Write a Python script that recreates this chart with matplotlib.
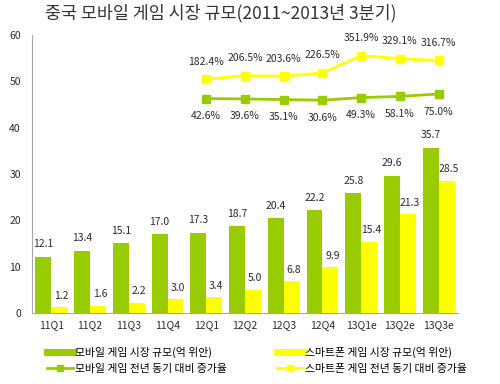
import numpy as np
import matplotlib
matplotlib.use("Agg")
import matplotlib.pyplot as plt
from matplotlib.lines import Line2D

plt.rcParams['font.family'] = ['Noto Sans CJK KR', 'DejaVu Sans']

quarters = ['11Q1', '11Q2', '11Q3', '11Q4', '12Q1', '12Q2', '12Q3', '12Q4',
            '13Q1e', '13Q2e', '13Q3e']
mobile_size = [12.1, 13.4, 15.1, 17.0, 17.3, 18.7, 20.4, 22.2, 25.8, 29.6, 35.7]
smart_size = [1.2, 1.6, 2.2, 3.0, 3.4, 5.0, 6.8, 9.9, 15.4, 21.3, 28.5]

# yoy growth from 12Q1 onwards (%)
mobile_growth = [42.6, 39.6, 35.1, 30.6, 49.3, 58.1, 75.0]
smart_growth = [182.4, 206.5, 203.6, 226.5, 351.9, 329.1, 316.7]

GREEN = '#99CC00'
YELLOW = '#FFFF00'
GREY = '#A6A6A6'
TXT = '#2b2b2b'

fig = plt.figure(figsize=(5, 3.84), dpi=100)
ax = fig.add_axes([0.064, 0.185, 0.852, 0.724])

x = np.arange(len(quarters))
w = 0.41
ax.bar(x - w / 2, mobile_size, w, color=GREEN)
ax.bar(x + w / 2, smart_size, w, color=YELLOW)

for xi, v in zip(x, mobile_size):
    ax.text(xi - w / 2, v + 1.6, f'{v:.1f}', ha='center', va='bottom', fontsize=7.5, color=TXT)
for xi, v in zip(x, smart_size):
    ax.text(xi + w / 2 + 0.05, v + 1.4, f'{v:.1f}', ha='center', va='bottom', fontsize=7.5, color=TXT)

ax.set_xlim(-0.5, 10.5)
ax.set_ylim(0, 60)
ax.set_yticks(range(0, 61, 10))
ax.set_xticks(x)
ax.set_xticklabels(quarters)
ax.tick_params(axis='both', labelsize=7.5, colors=TXT, length=0)
ax.tick_params(axis='x', pad=5)
ax.tick_params(axis='y', pad=8)
for s in ['top', 'right']:
    ax.spines[s].set_visible(False)
for s in ['left', 'bottom']:
    ax.spines[s].set_color(GREY)

# growth lines on a hidden secondary axis
ax2 = ax.twinx()
ax2.set_ylim(-1500, 500)
ax2.axis('off')
gx = x[4:]
ax2.plot(gx, mobile_growth, color=GREEN, marker='s', markersize=6, lw=2)
ax2.plot(gx, smart_growth, color=YELLOW, marker='s', markersize=6, lw=2)
for xi, v in zip(gx, mobile_growth):
    ax2.annotate(f'{v:.1f}%', (xi, v), xytext=(0, -9), textcoords='offset points',
                 ha='center', va='top', fontsize=7.5, color=TXT)
for xi, v in zip(gx, smart_growth):
    ax2.annotate(f'{v:.1f}%', (xi, v), xytext=(0, 9), textcoords='offset points',
                 ha='center', va='bottom', fontsize=7.5, color=TXT)

fig.text(0.09, 0.965, '중국 모바일 게임 시장 규모(2011~2013년 3분기)', fontsize=12.5,
         fontweight='medium', color='#333333', va='center')

handles = [
    Line2D([0], [0], color=GREEN, lw=5),
    Line2D([0], [0], color=YELLOW, lw=5),
    Line2D([0], [0], color=GREEN, lw=2, marker='s', markersize=4),
    Line2D([0], [0], color=YELLOW, lw=2, marker='s', markersize=4),
]
labels = ['모바일 게임 시장 규모(억 위안)', '스마트폰 게임 시장 규모(억 위안)',
          '모바일 게임 전년 동기 대비 증가율', '스마트폰 게임 전년 동기 대비 증가율']
# order so that columns fill row by row
order = [0, 2, 1, 3]
fig.legend([handles[i] for i in order], [labels[i] for i in order], ncol=2,
           loc='lower left', bbox_to_anchor=(0.075, 0.0), frameon=False,
           fontsize=7.8, handlelength=2.4, handletextpad=0.2, columnspacing=4.6,
           labelspacing=0.6)

fig.savefig('out.png', dpi=100)
